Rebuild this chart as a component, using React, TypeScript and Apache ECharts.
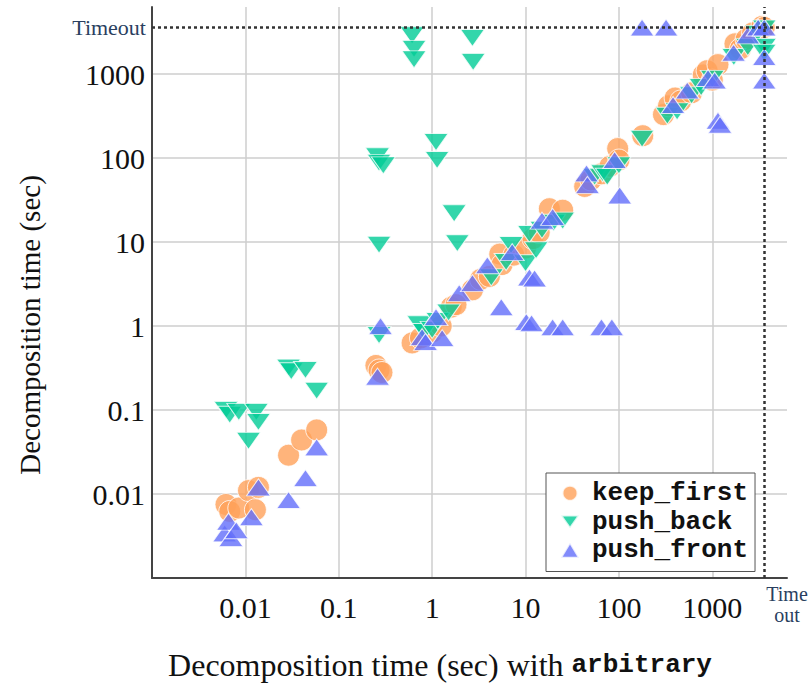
import React, { useEffect, useRef } from 'react';
import * as echarts from 'echarts';

const TIMEOUT = 3600;
const AXIS_MIN = 0.001;
const AXIS_MAX = 6310;

const seriesNames = ['keep_first', 'push_back', 'push_front'];
const seriesColors = ['#FFA15A', '#00CC96', '#636EFA'];

const keepFirstPoints: [number, number][] = [
  [0.0062, 0.0075], [0.0068, 0.0062], [0.0085, 0.0068], [0.0108, 0.011], [0.0128, 0.0065],
  [0.0138, 0.012], [0.029, 0.029], [0.04, 0.044], [0.058, 0.058],
  [0.25, 0.34], [0.27, 0.3], [0.29, 0.28],
  [0.61, 0.63], [0.75, 0.72], [1.0, 0.85], [1.25, 1.0], [1.6, 1.68], [1.8, 1.8],
  [2.7, 2.7], [3.3, 3.6], [4.1, 3.9], [5.3, 7.2], [5.6, 5.4], [7.5, 7.0], [10, 8.5],
  [12, 11], [14, 13], [18, 25], [25, 24], [43, 46], [50, 55], [65, 65], [80, 80],
  [97, 130], [100, 95], [180, 185], [300, 330], [340, 420], [400, 520], [460, 480],
  [600, 600], [800, 980], [880, 1100], [1000, 850], [1150, 1300], [1750, 2300],
  [2000, 2000], [2300, 2600], [2700, 3100], [3400, 3700], [3600, 3600],
];

const pushBackPoints: [number, number][] = [
  [0.0062, 0.1], [0.0068, 0.088], [0.0085, 0.095], [0.0131, 0.095], [0.0138, 0.072],
  [0.0108, 0.043], [0.029, 0.32], [0.031, 0.29], [0.044, 0.3], [0.058, 0.17],
  [0.26, 105], [0.27, 88], [0.3, 82], [0.27, 9.3], [0.27, 0.78],
  [0.61, 2900], [0.64, 2000], [0.64, 1500], [2.7, 2700], [2.75, 1400],
  [1.1, 155], [1.13, 95], [1.72, 22], [1.86, 9.7],
  [0.72, 1.05], [0.82, 0.85], [1.0, 0.9], [1.15, 1.15], [1.5, 1.45],
  [4.3, 3.8], [6.2, 5.8], [7, 9.2], [10, 5.6], [11, 12.5], [13, 8], [15, 14],
  [20, 17], [25, 18], [55, 60], [67, 66], [75, 60], [100, 82], [177, 170],
  [330, 320], [420, 360], [600, 560], [760, 700], [1000, 880], [1700, 1600],
  [2400, 2100], [3000, 3000], [3600, 3500], [3600, 2100], [3600, 1800],
];

const pushFrontPoints: [number, number][] = [
  [0.006, 0.0034], [0.0066, 0.0047], [0.007, 0.003], [0.008, 0.0037], [0.0116, 0.0053],
  [0.0138, 0.012], [0.029, 0.0085], [0.044, 0.0155], [0.058, 0.036],
  [0.26, 0.25], [0.28, 1.0],
  [0.78, 0.74], [0.85, 0.65], [1.1, 1.28], [1.28, 0.72], [1.95, 2.47], [2.7, 3.25],
  [3.9, 5.3], [5.5, 1.68], [7.2, 7.6], [10.2, 1.12], [11.6, 1.08], [11, 3.8],
  [12.5, 3.7], [15, 18], [19.5, 20], [19.5, 0.97], [25, 0.97], [65, 0.97], [84, 0.97],
  [45, 66], [46, 48], [90, 95], [102, 36], [177, 3600], [320, 3600], [380, 430],
  [540, 640], [900, 900], [1060, 840], [1150, 280], [1210, 250], [1690, 1800],
  [2400, 2900], [3100, 3600], [3600, 3600], [3600, 1600], [3600, 840],
];

const SERIF = '"Liberation Serif", "Times New Roman", serif';
const MONO = '"Liberation Mono", "DejaVu Sans Mono", monospace';
const DOWN_TRIANGLE = 'path://M0,0 L24,0 L12,17 Z';

function fmtLog(v: number): string {
  const e = Math.round(Math.log10(v));
  if (e < 0) return Number(v).toFixed(-e);
  return String(Math.round(v));
}

function makeAxis() {
  return {
    type: 'log' as const,
    logBase: 10,
    min: AXIS_MIN,
    max: AXIS_MAX,
    axisLine: { show: true, onZero: false, lineStyle: { color: '#444', width: 2 } },
    axisTick: { show: false },
    splitLine: {
      show: true,
      showMinLine: false,
      showMaxLine: false,
      lineStyle: { color: '#cecece', width: 1.5 },
    },
    minorTick: { show: false },
    axisLabel: {
      formatter: fmtLog,
      showMinLabel: false,
      showMaxLabel: false,
      fontFamily: SERIF,
      fontSize: 30,
      color: '#111',
    },
  };
}

export default function App() {
  const ref = useRef<HTMLDivElement>(null);

  useEffect(() => {
    if (!ref.current) return;
    const chart = echarts.init(ref.current, undefined, { renderer: 'svg' });
    const xAxis: any = makeAxis();
    xAxis.axisLabel.margin = 14;
    const yAxis: any = makeAxis();
    yAxis.axisLabel.margin = 7;

    const pointsList = [keepFirstPoints, pushBackPoints, pushFrontPoints];
    const symbols = ['circle', DOWN_TRIANGLE, 'triangle'];
    const sizes: any[] = [22, [24, 17], [24, 17]];

    const series: any[] = pointsList.map((pts, i) => ({
      type: 'scatter',
      name: seriesNames[i],
      data: pts,
      symbol: symbols[i],
      symbolSize: sizes[i],
      z: 2 + i,
      itemStyle: {
        color: seriesColors[i],
        opacity: 0.8,
        borderColor: '#ffffff',
        borderWidth: 1,
      },
    }));

    series[2].markLine = {
      silent: true,
      symbol: 'none',
      z: 10,
      lineStyle: { color: '#333', type: [3, 3], width: 2.5 },
      data: [
        {
          yAxis: TIMEOUT,
          label: {
            show: true,
            position: 'start',
            formatter: 'Timeout',
            color: '#2a3f5f',
            fontFamily: SERIF,
            fontSize: 22,
            distance: 6,
          },
        },
        { xAxis: TIMEOUT, label: { show: false } },
      ],
    };

    const timeoutTextStyle = {
      fontFamily: SERIF,
      fontSize: 20,
      fill: '#2a3f5f',
      align: 'center',
      verticalAlign: 'middle',
    };

    chart.setOption({
      animation: false,
      backgroundColor: '#ffffff',
      grid: { left: 152, right: 24, top: 7, bottom: 109 },
      xAxis,
      yAxis,
      legend: {
        orient: 'vertical',
        left: 546,
        top: 473,
        padding: [6, 7, 7, 14],
        itemWidth: 18,
        itemHeight: 15,
        itemGap: 0,
        borderColor: '#555',
        borderWidth: 1,
        backgroundColor: '#ffffff',
        data: seriesNames,
        textStyle: {
          fontFamily: MONO,
          fontWeight: 'bold',
          fontSize: 26,
          lineHeight: 28.5,
          color: '#111',
          padding: [0, 0, 0, 8],
        },
      },
      graphic: [
        {
          type: 'text',
          x: 440,
          y: 665,
          style: {
            text: '{a|Decomposition time (sec) with }{b|arbitrary}',
            rich: {
              a: { fontFamily: SERIF, fontSize: 32, fill: '#111' },
              b: { fontFamily: MONO, fontWeight: 'bold', fontSize: 26, fill: '#111' },
            },
            align: 'center',
            verticalAlign: 'middle',
          },
        },
        {
          type: 'text',
          x: 30,
          y: 325,
          rotation: Math.PI / 2,
          style: {
            text: 'Decomposition time (sec)',
            fontFamily: SERIF,
            fontSize: 29,
            fill: '#111',
            align: 'center',
            verticalAlign: 'middle',
          },
        },
        { type: 'text', x: 787, y: 594, style: { ...timeoutTextStyle, text: 'Time' } },
        { type: 'text', x: 787, y: 615, style: { ...timeoutTextStyle, text: 'out' } },
      ],
      series,
    });
    return () => chart.dispose();
  }, []);

  return (
    <div
      ref={ref}
      style={{ position: 'fixed', left: 0, top: 0, width: 811, height: 687, background: '#fff' }}
    />
  );
}
